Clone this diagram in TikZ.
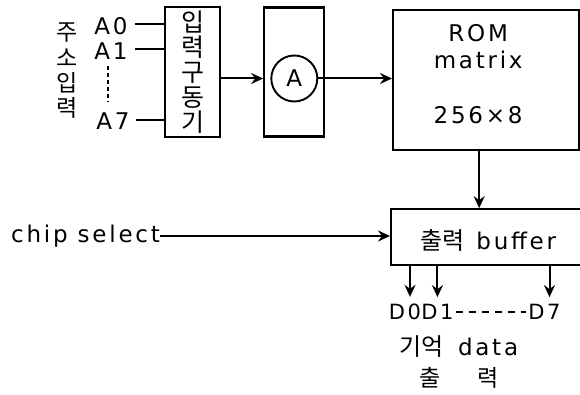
\documentclass[tikz,border=0pt]{standalone}
\usepackage{fontspec}
\setmainfont{DejaVu Sans}[LetterSpace=12]
\newfontfamily\kr{Noto Sans CJK KR}
\usepackage{tikz}
\usetikzlibrary{positioning,arrows.meta,calc}

\begin{document}
\begin{tikzpicture}[
    x=1pt, y=-1pt,
    node distance=42pt and 42pt,
    every node/.style={font=\fontsize{23}{27}\selectfont},
    blk/.style={rectangle, draw, line width=2.3pt, align=center, inner sep=0pt},
    ring/.style={circle, draw, line width=1.9pt, minimum size=46pt, inner sep=0pt},
    lbl/.style={inner sep=0pt},
    wire/.style={line width=2.3pt},
    arrow/.style={-{Stealth[length=12pt, width=11pt, inset=4pt]}, line width=2pt},
  ]
    \useasboundingbox (0,0) rectangle (580,395);

    % address inputs
    \node[lbl, align=center, font=\kr\fontsize{23}{25.3}\selectfont] (addr) at (67,71) {주\\소\\입\\력};
    \node[lbl] (a0) at (111,26) {A0};
    \node[lbl] (a1) at (111,51) {A1};
    \node[lbl] (a7) at (113,121) {A7};

    \node[blk, minimum width=55pt, minimum height=130pt, font=\kr\fontsize{25}{25}\selectfont] (drv) at (192.5,72) {입\\력\\구\\동\\기};
    \node[blk, minimum width=60pt, minimum height=129pt, right=42pt of drv] (mux) {};
    \node[ring] (sel) at ($(mux.center)+(0,6.5)$) {A};
    \node[blk, minimum width=186pt, minimum height=140pt, anchor=west] (rom) at (392,80) {};
    \node[lbl, align=center] (romtxt) at ($(rom.center)+(-8,-6)$) {ROM\\matrix\\[28pt]256×8};
    \node[blk, minimum width=190pt, minimum height=56pt, below=57pt of rom] (buf) {};
    \node[lbl] (buftxt) at ($(buf.center)+(2,3)$) {{\kr\fontsize{24}{26}\selectfont 출력}\hspace{12pt}buffer};
    \node[lbl] (cs) at (85.5,236) {chip\ select};

    % outputs
    \node[lbl, font=\fontsize{21}{25}\selectfont] (d0) at (405,312) {D0};
    \node[lbl, font=\fontsize{21}{25}\selectfont, right=0pt of d0] (d1) {D1};
    \node[lbl, font=\fontsize{21}{25}\selectfont] (d7) at (544.5,312) {D7};
    \node[lbl] (mem) at (459,347) {{\kr\fontsize{24}{26}\selectfont 기억}\hspace{14pt}data};
    \node[lbl, font=\kr\fontsize{23}{26}\selectfont] (out) at (459,378) {출\hspace{36pt}력};

    \draw[wire] ($(a0.east)+(7,-2)$) -- (drv.west |- {$(a0.east)+(7,-2)$});
    \draw[wire] ($(a1.east)+(7,-2)$) -- (drv.west |- {$(a1.east)+(7,-2)$});
    \draw[wire] ($(a7.east)+(6,-1)$) -- (drv.west |- {$(a7.east)+(6,-1)$});
    \draw[wire, line width=1.6pt, dash pattern=on 4pt off 3pt] ($(a1.south)+(-3,6)$) -- ($(a7.north)+(-5,-10)$);

    \draw[arrow] (drv.east |- sel) -- (mux.west |- sel);
    \draw[arrow] (sel) -- (rom.west |- sel);
    \draw[arrow] ($(rom.south)+(-7,0)$) -- ($(buf.north)+(-7,0)$);
    \draw[arrow] (cs) -- (buf.west |- cs);
    \draw[arrow, shorten >=7pt] ($(buf.south -| d0)+(5,0)$) -- ($(d0.north)+(5,0)$);
    \draw[arrow, shorten >=7pt] (buf.south -| d1) -- (d1.north);
    \draw[arrow, shorten >=7pt] ($(buf.south -| d7)+(5,0)$) -- ($(d7.north)+(5,0)$);
    \draw[line width=1.4pt, dash pattern=on 7pt off 6pt] ($(d1.east)+(2,0)$) -- ($(d7.west)+(-2,0)$);
  \end{tikzpicture}
\end{document}
